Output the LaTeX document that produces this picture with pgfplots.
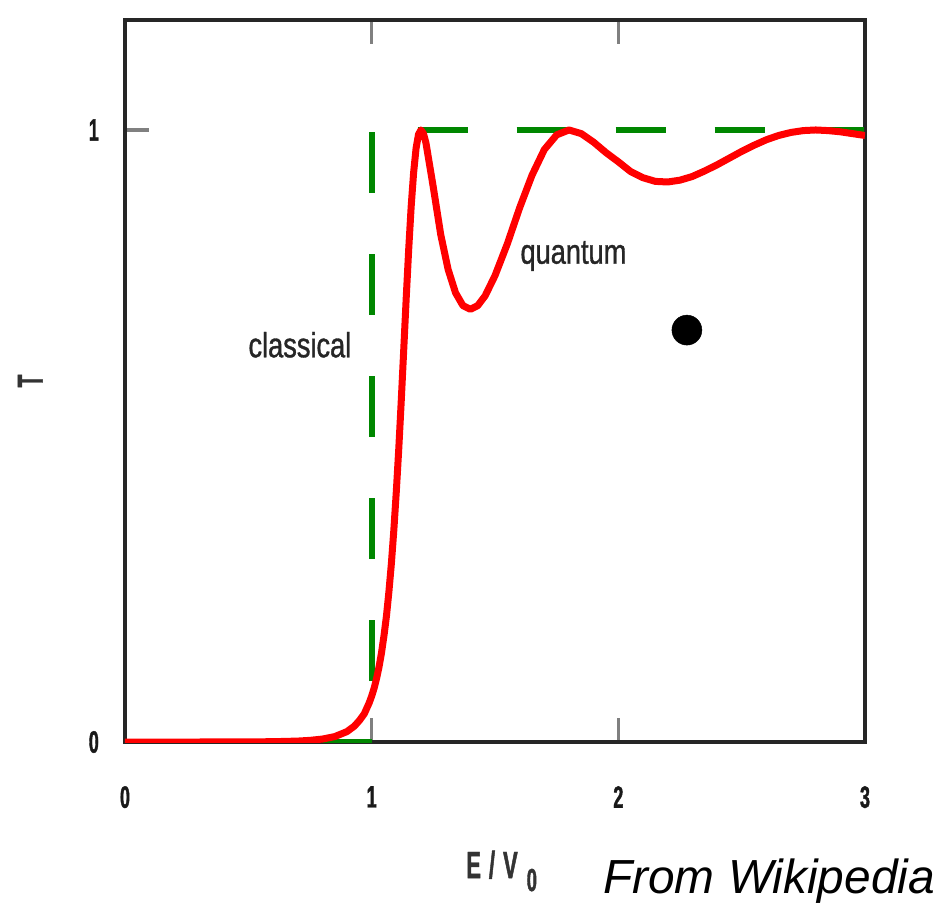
\documentclass[border=0pt]{standalone}
\usepackage{pgfplots}
\pgfplotsset{compat=1.18}
\usepackage{fontspec}
\setmainfont{Liberation Sans}
\newfontfamily\tickfont[FakeStretch=0.58, FakeBold=1.2, UprightFont={* Bold}]{Liberation Sans}
\newfontfamily\labfont[FakeStretch=0.78, FakeBold=1.0]{Liberation Sans}
\definecolor{qred}{RGB}{255,0,0}
\definecolor{cgreen}{RGB}{0,135,0}

\begin{document}
\begin{tikzpicture}
\begin{axis}[
  scale only axis, width=740bp, height=722bp,
  xmin=0, xmax=3, ymin=0, ymax=1.1797,
  xtick={0,1,2,3}, xticklabels={0,1,2,3},
  ytick={0,1}, yticklabels={0,1},
  tick align=inside,
  major tick length=24bp,
  tick style={black!50, line width=3.5bp},
  axis line style={black!85, line width=4bp},
  xticklabel style={font=\tickfont\fontsize{31}{31}\selectfont, text=black!90, inner sep=0pt, yshift=-44bp},
  yticklabel style={font=\tickfont\fontsize{31}{31}\selectfont, text=black!90, inner sep=0pt, xshift=-26bp},
  xlabel={E\hspace{8bp}/\hspace{8bp}V\hspace{9bp}\raisebox{-13bp}{\fontsize{32}{32}\selectfont 0}},
  xlabel style={at={(axis description cs:0.509,-0.1884)}, anchor=base, inner sep=0pt,
    font=\tickfont\fontsize{38}{38}\selectfont, text=black!80},
  ylabel={T},
  ylabel style={at={(axis description cs:-0.128,0.5)}, anchor=center, inner sep=0pt,
    font=\tickfont\fontsize{36}{36}\selectfont, text=black!80},
  clip mode=individual,
]
% classical step (dashed green)
\addplot[cgreen, line width=6bp, dash pattern=on 50bp off 49bp] coordinates {(0,0) (1,0)};
\addplot[cgreen, line width=6bp, dash pattern=on 61bp off 61bp, dash phase=61bp] coordinates {(1,0) (1,1)};
\addplot[cgreen, line width=6bp, dash pattern=on 50bp off 49bp, dash phase=53bp] coordinates {(1,1) (3,1)};
% quantum transmission (red)
\addplot[qred, line width=7bp, line join=round] coordinates {
(0,0) (0.1,0) (0.2,0) (0.3,0) (0.4,0.0001) (0.5,0.0002) (0.6,0.0005) (0.7,0.0015)
(0.75,0.0027) (0.8,0.0048) (0.85,0.0088) (0.9,0.017) (0.93,0.026) (0.95,0.035)
(0.97,0.046) (0.98,0.055) (0.99,0.064) (1.00,0.075) (1.01,0.088) (1.02,0.104)
(1.03,0.123) (1.04,0.146) (1.05,0.174) (1.06,0.206) (1.07,0.246) (1.08,0.292)
(1.09,0.347) (1.10,0.41) (1.11,0.480) (1.12,0.558) (1.13,0.641) (1.14,0.725)
(1.15,0.804) (1.16,0.874) (1.17,0.930) (1.18,0.970) (1.19,0.993) (1.20,1.000)
(1.21,0.994) (1.22,0.979) (1.25,0.906) (1.28,0.829) (1.31,0.772) (1.34,0.734)
(1.37,0.713) (1.40,0.707) (1.43,0.713) (1.46,0.729) (1.50,0.762) (1.55,0.814)
(1.60,0.873) (1.65,0.926) (1.70,0.968) (1.75,0.992) (1.80,1.000) (1.85,0.994)
(1.90,0.980) (1.95,0.963) (2.00,0.948) (2.05,0.932) (2.10,0.922) (2.15,0.916)
(2.20,0.915) (2.25,0.918) (2.30,0.924) (2.35,0.933) (2.40,0.943) (2.45,0.954)
(2.50,0.965) (2.55,0.975) (2.60,0.984) (2.65,0.991) (2.70,0.996) (2.75,0.999)
(2.80,1.000) (2.85,0.999) (2.90,0.997) (2.95,0.994) (3.00,0.991)
};
% particle
\addplot[only marks, mark=*, mark size=15bp, black] coordinates {(2.278,0.673)};
\node[font=\labfont\fontsize{35}{35}\selectfont, text=black!85, inner sep=0pt] at (axis cs:0.709,0.649) {classical};
\node[font=\labfont\fontsize{35}{35}\selectfont, text=black!85, inner sep=0pt] at (axis cs:1.818,0.794) {quantum};
\coordinate (bbsw) at (rel axis cs:0,0);
\coordinate (bbne) at (rel axis cs:1,1);
\end{axis}
\node[anchor=base west, inner sep=0pt, font=\itshape\fontsize{48}{48}\selectfont] at ([shift={(478bp,-151bp)}]bbsw) {From Wikipedia};
\path ([shift={(-125bp,-164bp)}]bbsw) rectangle ([shift={(80bp,20bp)}]bbne);
\end{tikzpicture}
\end{document}
